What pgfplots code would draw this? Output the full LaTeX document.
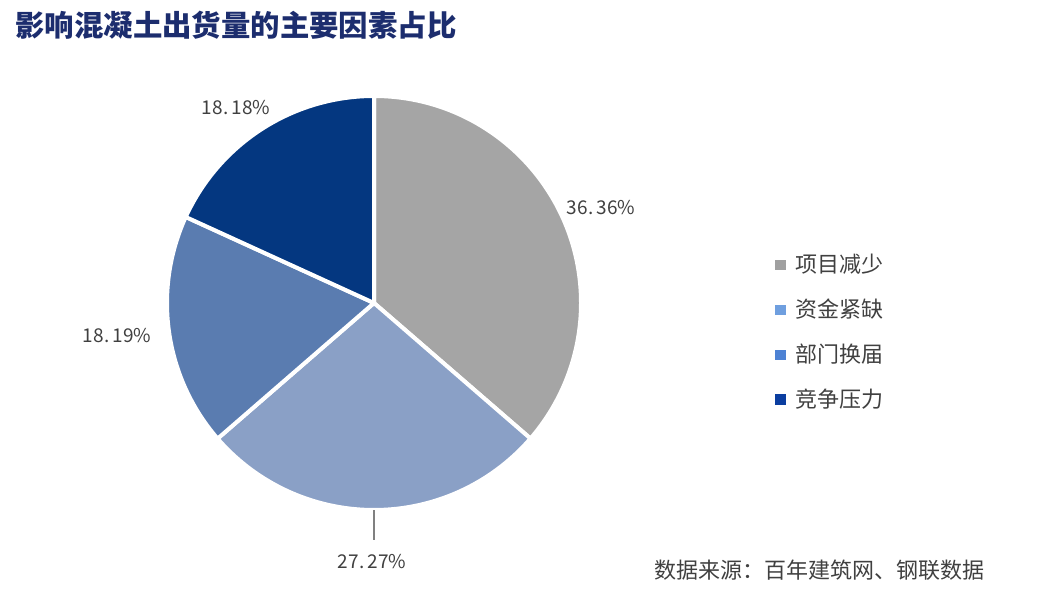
\documentclass[border=0pt]{standalone}
\usepackage{pgfplots}
\pgfplotsset{compat=1.18}
\usepackage{fontspec}
\setmainfont{Noto Sans CJK SC}
\newfontfamily\cjk{Noto Sans CJK SC}
\definecolor{cgray}{HTML}{A5A5A5}
\definecolor{clight}{HTML}{8AA0C6}
\definecolor{cmed}{HTML}{5A7CB0}
\definecolor{cdark}{HTML}{043780}
\definecolor{lgray}{HTML}{A0A0A0}
\definecolor{llight}{HTML}{6F9FDF}
\definecolor{lmed}{HTML}{4D82D4}
\definecolor{ldark}{HTML}{0B3EA0}
\definecolor{titlec}{HTML}{1C2D6E}
\definecolor{txt}{HTML}{404040}
% #1 cumulative share before the slice, #2 share, #3 colour
\newcommand\pieslice[3]{%
  \fill[#3, draw=white, line width=2pt, line join=round]
    (axis cs:374,291) -- ++({90-3.6*(#1)}:103.5pt)
    arc[start angle={90-3.6*(#1)}, end angle={90-3.6*((#1)+(#2))}, radius=103.5pt] -- cycle;}
\begin{document}
\begin{tikzpicture}
\begin{axis}[
  width=524pt, height=297pt, scale only axis,
  xmin=0, xmax=1048, ymin=0, ymax=594,
  hide axis, clip=false,
  legend style={at={(axis cs:775,344)}, anchor=north west, draw=none, fill=none,
    font=\fontsize{11}{13}\selectfont\color{txt}, row sep=7.6pt,
    inner sep=0pt},
  legend cell align=left,
  legend image code/.code={\fill[#1, draw=none] (0pt,-2.6pt) rectangle (5.2pt,2.6pt);
    \path[draw=none, fill=none] (0pt,-0.1pt) rectangle (8.2pt,0.1pt);},
]
\path (axis cs:0,0) rectangle (axis cs:1048,594);
% data: 项目减少 36.36, 资金紧缺 27.27, 部门换届 18.19, 竞争压力 18.18
\pieslice{0}{36.36}{cgray}
\pieslice{36.36}{27.27}{clight}
\pieslice{63.63}{18.19}{cmed}
\pieslice{81.82}{18.18}{cdark}
\addlegendimage{fill=lgray}
\addlegendentry{项目减少}
\addlegendimage{fill=llight}
\addlegendentry{资金紧缺}
\addlegendimage{fill=lmed}
\addlegendentry{部门换届}
\addlegendimage{fill=ldark}
\addlegendentry{竞争压力}
\draw[gray, line width=0.6pt] (axis cs:374,84) -- (axis cs:374,54);
\node[txt, font=\fontsize{9.5}{11}\selectfont] at (axis cs:601,386) {36.\,36\%};
\node[txt, font=\fontsize{9.5}{11}\selectfont] at (axis cs:372,32) {27.\,27\%};
\node[txt, font=\fontsize{9.5}{11}\selectfont] at (axis cs:117,258) {18.\,19\%};
\node[txt, font=\fontsize{9.5}{11}\selectfont] at (axis cs:236,486) {18.\,18\%};
\node[titlec, anchor=west, font=\fontsize{14.7}{17}\selectfont\bfseries, inner sep=0pt] at (axis cs:15,569) {影响混凝土出货量的主要因素占比};
\node[txt, anchor=east, font=\fontsize{11}{13}\selectfont, inner sep=0pt] at (axis cs:985,24) {数据来源：百年建筑网、钢联数据};
\end{axis}
\end{tikzpicture}
\end{document}
